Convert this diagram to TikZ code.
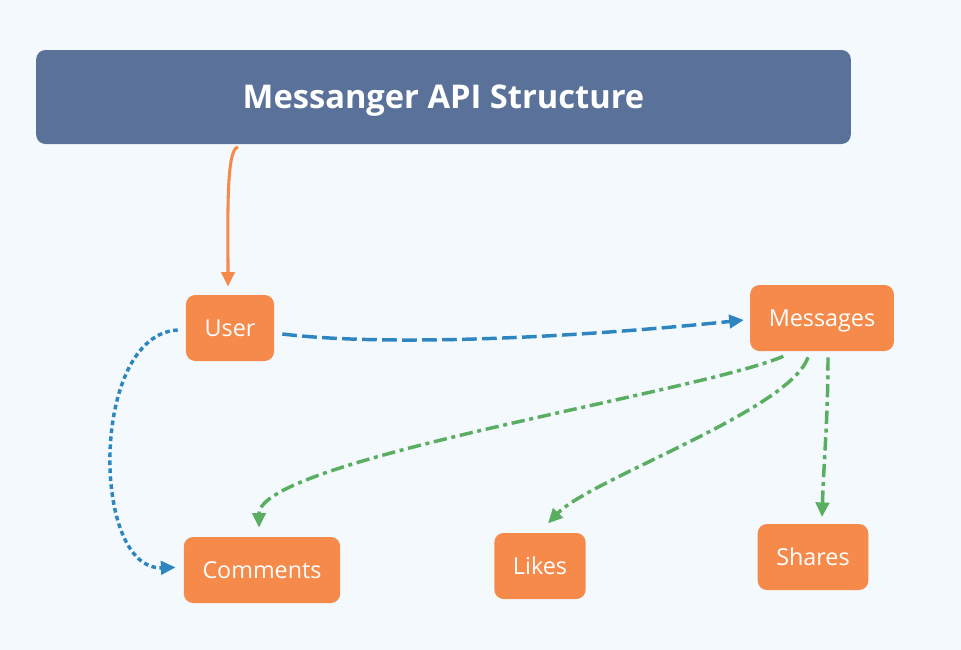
\documentclass[tikz,border=0pt]{standalone}
\usepackage{fontspec}
\setmainfont{Open Sans}
\usetikzlibrary{arrows.meta}
\definecolor{bgc}{HTML}{F4F9FE}
\definecolor{boxc}{HTML}{F68A4B}
\definecolor{titc}{HTML}{5A7299}
\definecolor{bluec}{HTML}{2E86C1}
\definecolor{greenc}{HTML}{5AAE61}

\begin{document}
\begin{tikzpicture}[x=0.75pt,y=-0.75pt,
  box/.style={fill=boxc,rounded corners=7pt,text=white,inner xsep=14pt,minimum height=49.5pt,text depth=0pt,font=\fontsize{17.5}{21}\selectfont},
  tip/.style={-{Triangle[length=11pt,width=10pt]}},
  dashline/.style={tip,bluec,line width=2.6pt,dash pattern=on 11pt off 4pt},
  dotline/.style={tip,bluec,line width=2.6pt,dash pattern=on 3.5pt off 2.5pt},
  dashdotline/.style={tip,greenc,line width=2.6pt,dash pattern=on 10pt off 3.5pt on 3pt off 3.5pt}]
\useasboundingbox[fill=bgc] (0,0) rectangle (961,650);

%标题
\node[fill=titc,rounded corners=7pt,minimum width=611pt,minimum height=70.5pt,text depth=0pt,text=white,font=\fontsize{24.5}{29}\selectfont\bfseries] (title) at (443.5,97) {Messanger API Structure};

\node[box] (user) at (230,328) {User};%绝对坐标
\node[box] (msg) at (822,318) {Messages};
\node[box] (comm) at (262,570) {Comments};
\node[box] (likes) at (540,566) {Likes};
\node[box] (shares) at (813,557) {Shares};

\draw[tip,boxc,line width=2.3pt] ([xshift=6pt,yshift=-2pt]user.north |- title.south) .. controls +(-12,2) and +(0,-70) .. ([xshift=-1.5pt,yshift=6pt]user.north);

\draw[dashline] ([xshift=6pt,yshift=-4.5pt]user.east) .. controls +(118,14) and +(-144,15) .. ([xshift=-4.5pt,yshift=-1.5pt]msg.west);

\draw[dotline] ([xshift=-6pt,yshift=-1.5pt]user.west) .. controls +(-88,5) and +(-85,3) .. ([xshift=-6pt,yshift=2pt]comm.west);

%绿色虚线
\draw[dashdotline] ([xshift=-29pt,yshift=-3.75pt]msg.south) .. controls +(-83,36) and +(0,-68) .. ([xshift=-2.25pt,yshift=6.75pt]comm.north);
\draw[dashdotline] ([xshift=-10.5pt,yshift=-4.5pt]msg.south) .. controls +(-18,53) and +(42,-44) .. ([xshift=6pt,yshift=7pt]likes.north);
\draw[dashdotline] ([xshift=4.5pt,yshift=-4.5pt]msg.south) .. controls +(0,60) and +(2,-60) .. ([xshift=6.75pt,yshift=5pt]shares.north);

\end{tikzpicture}
\end{document}
